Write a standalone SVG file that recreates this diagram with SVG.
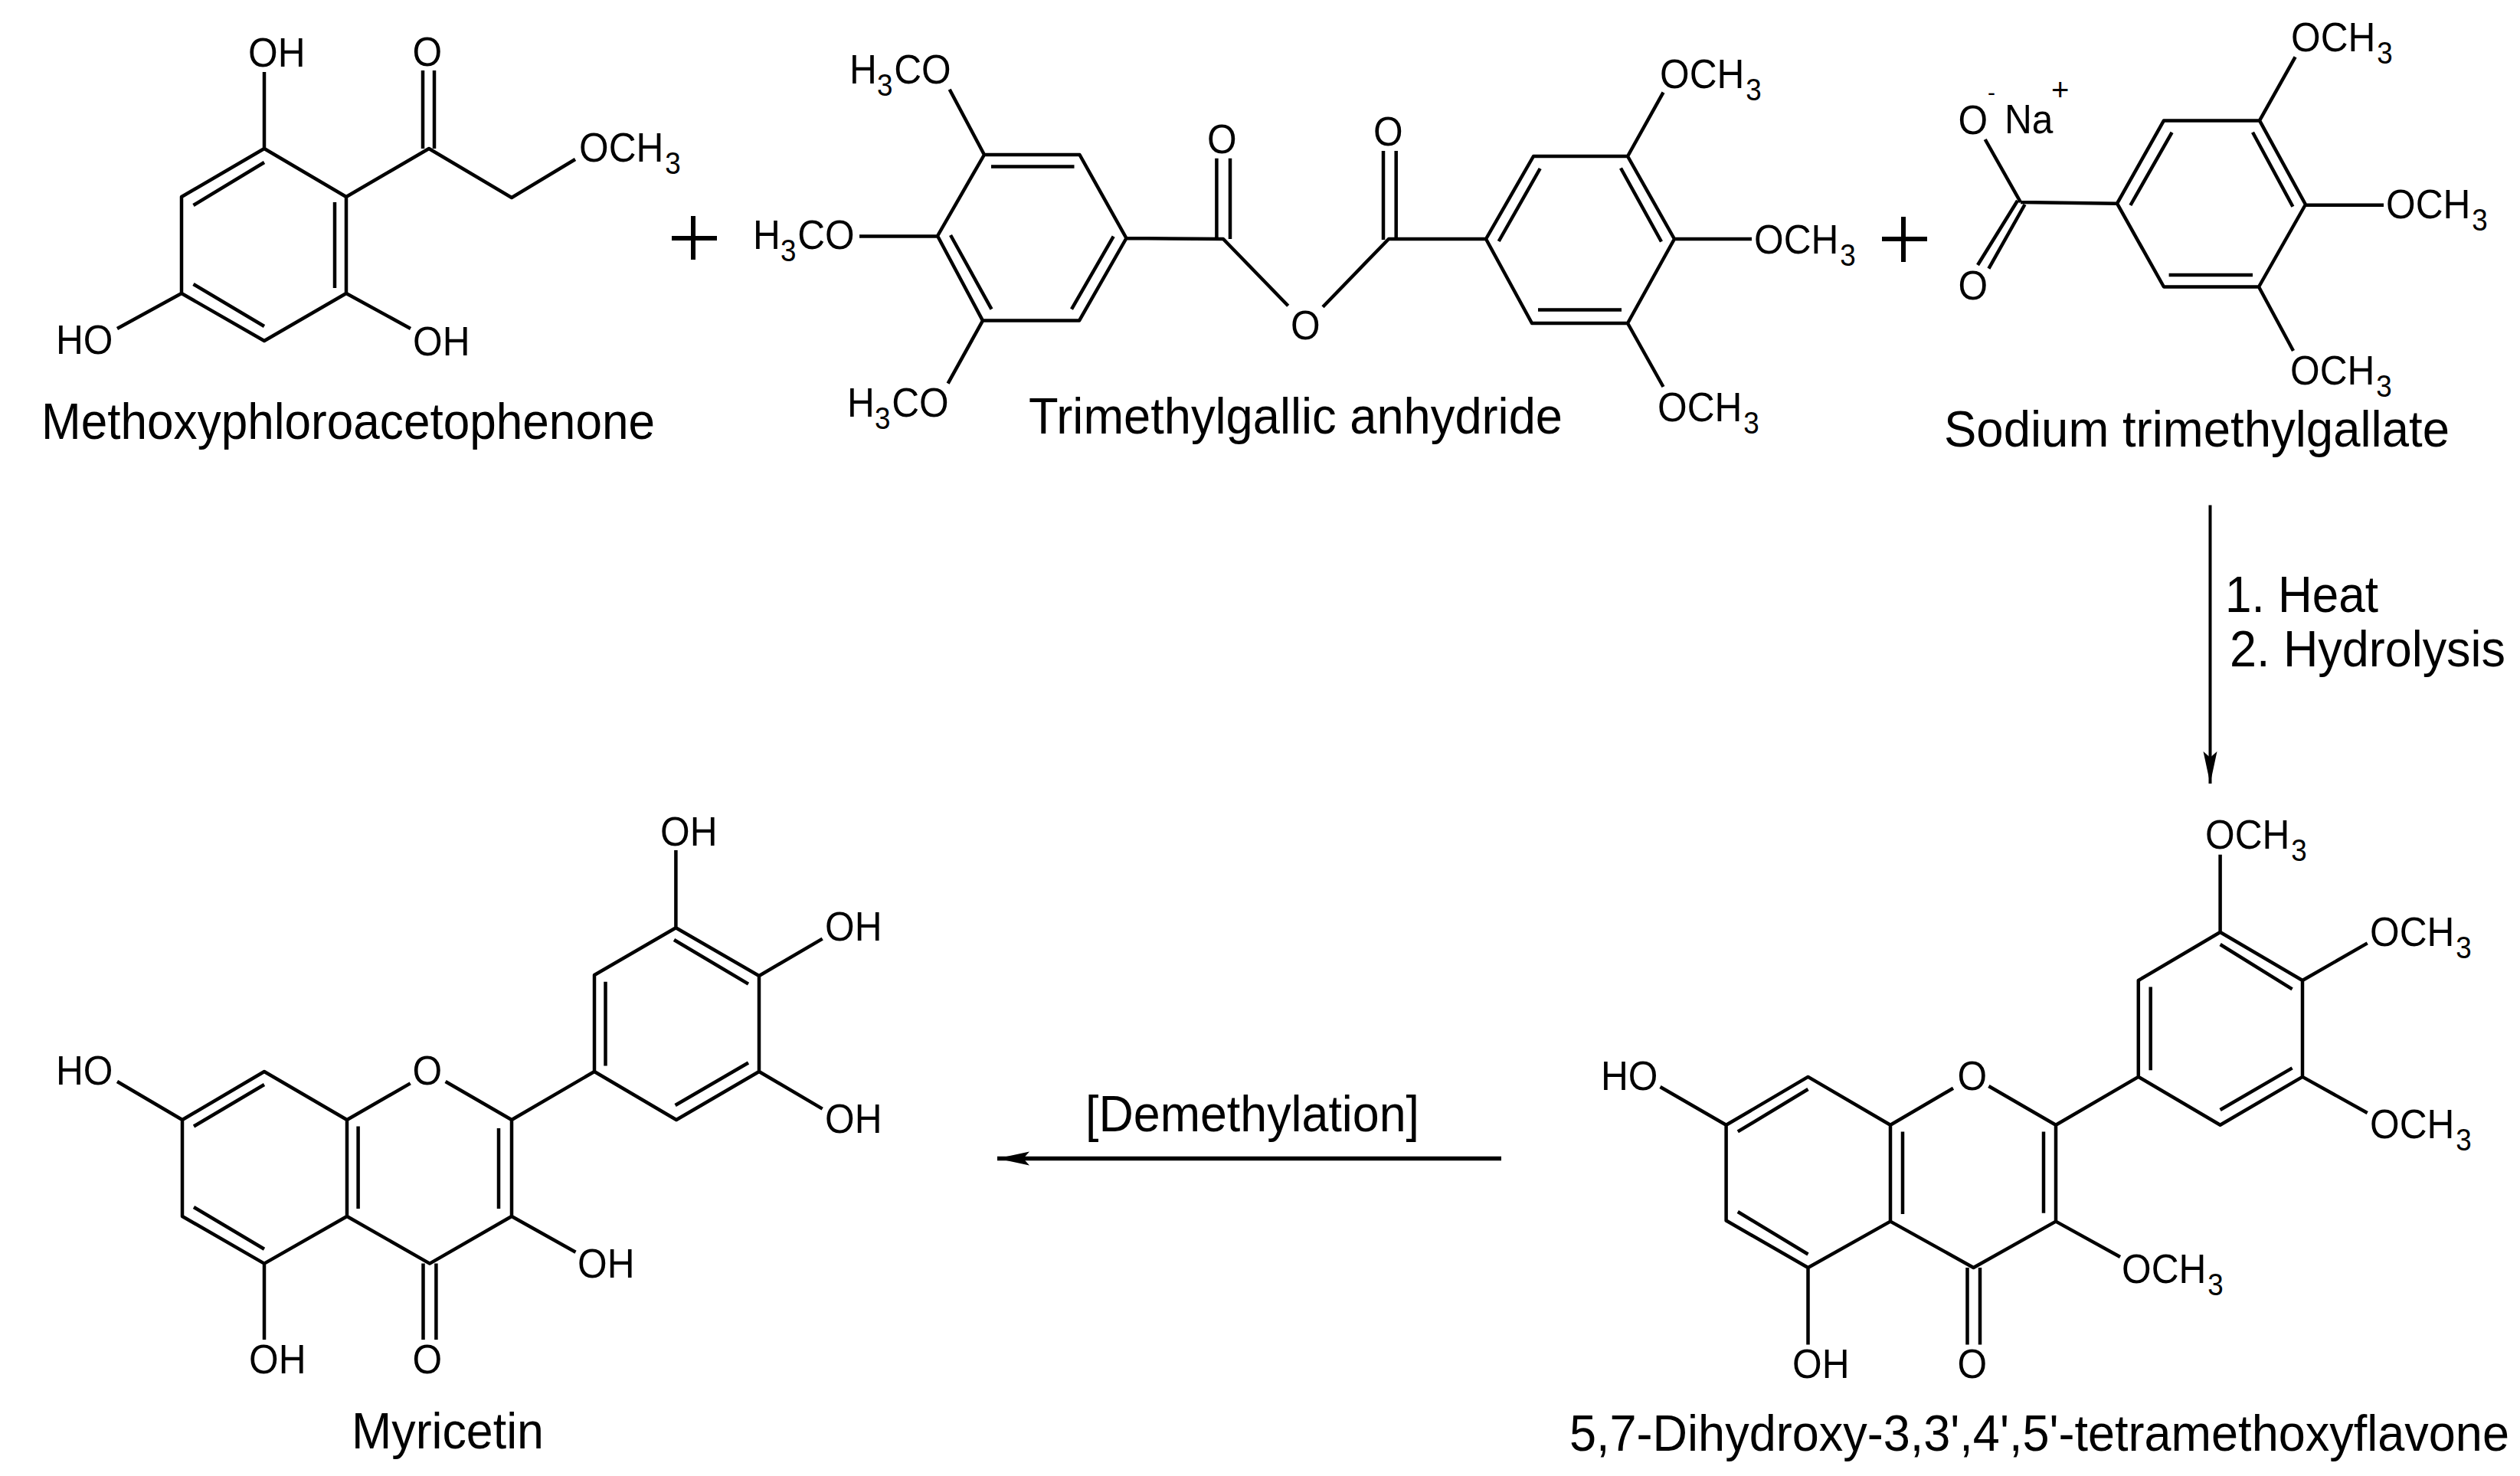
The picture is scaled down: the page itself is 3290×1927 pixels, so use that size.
<svg xmlns="http://www.w3.org/2000/svg" width="3290" height="1927" viewBox="0 0 3290 1927">
<style>
text{font-family:"Liberation Sans",Arial,sans-serif;fill:#000}
.a{font-size:54px}
.l{font-size:66px}
.s{font-size:40px}
.b{fill:none;stroke:#000;stroke-width:4.5;stroke-linejoin:round;stroke-linecap:butt}
.p{fill:none;stroke:#000;stroke-width:6}
.c{fill:none;stroke:#000}
</style>
<defs>
<marker id="head" markerUnits="userSpaceOnUse" markerWidth="44" markerHeight="22" refX="42" refY="10" orient="auto"><path d="M0,1 L42,10 L0,19 L8,10 Z" fill="#000"/></marker>
</defs>
<rect width="3290" height="1927" fill="#fff"/>

<g id="methoxyphloroacetophenone">
<path class="b" d="M345,194 L237,257 L237,383 L345,445 L452,383 L452,257 Z M252.5,268 L345,212 M437,264 L437,376 M252.5,371 L345,426 M345,194 L345,94 M237,383 L153,429 M452,383 L536,429 M452,257 L560,194 L668,258 L751,208 M552,194 L552,92 M567,194 L567,92"/>
<text class="a" transform="translate(324,87) scale(.92,1)">OH</text>
<text class="a" transform="translate(538.5,86) scale(.92,1)">O</text>
<text class="a" transform="translate(756,211) scale(.92,1)">OCH<tspan class="s" dx="2" dy="16">3</tspan></text>
<text class="a" transform="translate(73,462) scale(.92,1)">HO</text>
<text class="a" transform="translate(539,464) scale(.92,1)">OH</text>
<text class="l" x="54" y="573" textLength="801" lengthAdjust="spacingAndGlyphs">Methoxyphloroacetophenone</text>
</g>

<g id="plus-1"><path class="p" d="M877,311 H936 M905,282 V339"/></g>

<g id="trimethylgallic-anhydride">
<path class="b" d="M1285,202 H1409.5 L1470.5,311 L1409,418.6 H1283 L1224,308 Z M1294,217.5 H1402.5 M1241,307 L1294.5,403.6 M1453.7,308.6 L1399,403.6 M1239.7,116.8 L1285,202 M1122,308.6 H1224 M1237.6,500.7 L1283,418.6 M1470.5,311 L1597,312 L1681.7,399.3 M1588.4,312 V206.8 M1606,312 V206.8 M1727,400.7 L1813,312 H1940 M1806,313 V197 M1822.7,313 V197 M1940,312 L2002,204 H2125 L2186,312 L2125,422 H2000 Z M2116,219.5 L2169,315.5 M2008,404.5 H2117 M2010.7,220 L1956.7,315 M2171.5,120.6 L2125,204 M2287,312 H2186 M2171.5,505 L2125,422"/>
<text class="a" transform="translate(1109,109) scale(.92,1)">H<tspan class="s" dy="16">3</tspan><tspan dx="2" dy="-16">CO</tspan></text>
<text class="a" transform="translate(983,325) scale(.92,1)">H<tspan class="s" dy="16">3</tspan><tspan dx="2" dy="-16">CO</tspan></text>
<text class="a" transform="translate(1106,544) scale(.92,1)">H<tspan class="s" dy="16">3</tspan><tspan dx="2" dy="-16">CO</tspan></text>
<text class="a" transform="translate(1576,200) scale(.92,1)">O</text>
<text class="a" transform="translate(1793,190) scale(.92,1)">O</text>
<text class="a" transform="translate(1685,443) scale(.92,1)">O</text>
<text class="a" transform="translate(2167,115) scale(.92,1)">OCH<tspan class="s" dx="2" dy="16">3</tspan></text>
<text class="a" transform="translate(2290,331) scale(.92,1)">OCH<tspan class="s" dx="2" dy="16">3</tspan></text>
<text class="a" transform="translate(2164,550) scale(.92,1)">OCH<tspan class="s" dx="2" dy="16">3</tspan></text>
<text class="l" x="1343" y="566" textLength="697" lengthAdjust="spacingAndGlyphs">Trimethylgallic anhydride</text>
</g>

<g id="plus-2"><path class="p" d="M2457,312 H2516 M2485,283 V342"/></g>

<g id="sodium-trimethylgallate">
<path class="b" d="M2825,157.4 H2950 L3010,267 L2949,374.5 H2825 L2764,265.7 Z M2835.6,172.8 L2781.4,268 M2941,172.8 L2993.4,269.7 M2831.6,359 H2941 M2638,264 L2764,265.7 M2591.7,182 L2638,264 M2582,346 L2634,262 M2596.4,350.7 L2643.5,267 M2996.6,74.3 L2950,157.4 M3112,267.7 H3010 M2994,458 L2949,374.5"/>
<text class="a" transform="translate(2556.5,175) scale(.92,1)">O</text>
<text font-size="30" x="2595" y="131">-</text>
<text class="a" transform="translate(2617,174) scale(.92,1)">Na</text>
<text class="s" x="2678" y="131">+</text>
<text class="a" transform="translate(2556.5,390.5) scale(.92,1)">O</text>
<text class="a" transform="translate(2991,67.4) scale(.92,1)">OCH<tspan class="s" dx="2" dy="16">3</tspan></text>
<text class="a" transform="translate(3115,285) scale(.92,1)">OCH<tspan class="s" dx="2" dy="16">3</tspan></text>
<text class="a" transform="translate(2990,502) scale(.92,1)">OCH<tspan class="s" dx="2" dy="16">3</tspan></text>
<text class="l" x="2538" y="583" textLength="660" lengthAdjust="spacingAndGlyphs">Sodium trimethylgallate</text>
</g>

<g id="tetramethoxyflavone">
<path class="b" d="M2253.6,1468.8 L2360.5,1405.9 L2468,1468.8 V1594.6 L2360.5,1655 L2253.6,1593.5 Z M2468,1594.6 L2576.5,1655 L2684,1594.6 V1468.8 L2596.4,1418 M2468,1468.8 L2550,1420.7 M2684,1468.8 L2791.8,1405.9 V1280 L2898.6,1217 L3006,1280 V1405.9 L2898.6,1468.8 L2791.8,1405.9 M2268.8,1477.4 L2360.5,1422 M2268.8,1582 L2360.5,1637.5 M2484,1477.4 V1585 M2668,1477.4 V1583.8 M2807.7,1288.6 V1397.3 M2898.6,1233 L2992.6,1291.4 M2992.6,1394.4 L2898.6,1449 M2167.5,1419 L2253.6,1468.8 M2360.5,1655 V1755.4 M2568.5,1655 V1755.4 M2585,1655 V1755.4 M2684,1594.6 L2768,1641 M2898.6,1217 V1115.8 M3006,1280 L3090.7,1231.4 M3006,1405.9 L3090.7,1453"/>
<text class="a" transform="translate(2555.5,1423) scale(.92,1)">O</text>
<text class="a" transform="translate(2090,1423) scale(.92,1)">HO</text>
<text class="a" transform="translate(2340,1799) scale(.92,1)">OH</text>
<text class="a" transform="translate(2555.5,1799) scale(.92,1)">O</text>
<text class="a" transform="translate(2770,1674.6) scale(.92,1)">OCH<tspan class="s" dx="2" dy="16">3</tspan></text>
<text class="a" transform="translate(2879,1108) scale(.92,1)">OCH<tspan class="s" dx="2" dy="16">3</tspan></text>
<text class="a" transform="translate(3094,1235) scale(.92,1)">OCH<tspan class="s" dx="2" dy="16">3</tspan></text>
<text class="a" transform="translate(3094,1486) scale(.92,1)">OCH<tspan class="s" dx="2" dy="16">3</tspan></text>
<text class="l" transform="translate(2049,1894) scale(.955,1)">5,7-Dihydroxy-3,3',4',5'-tetramethoxyflavone</text>
</g>

<g id="myricetin">
<path class="b" d="M238,1462 L345,1399 L453,1462 V1588 L345,1649.6 L238,1588 Z M453,1588 L561,1649.6 L668,1588 V1462 L581.6,1412 M453,1462 L535.7,1414.4 M668,1462 L776,1399 V1273 L882.4,1211.3 L991,1274 V1399 L883,1462 L776,1399 M253,1470.5 L345,1416 M253,1576 L345,1630.7 M467.6,1470.5 V1578 M651,1473 V1578 M790.5,1281.7 V1391.6 M880,1227 L977,1284.6 M977,1387.5 L881.6,1443 M153,1412 L238,1462 M345,1649.6 V1749 M552.5,1649.6 V1749 M569.4,1649.6 V1749 M668,1588 L751.5,1634.7 M882.4,1211.3 V1110 M991,1274 L1073.7,1225.6 M991,1399 L1073.7,1447.6"/>
<text class="a" transform="translate(538.5,1416) scale(.92,1)">O</text>
<text class="a" transform="translate(73,1416) scale(.92,1)">HO</text>
<text class="a" transform="translate(325,1793) scale(.92,1)">OH</text>
<text class="a" transform="translate(538.5,1793) scale(.92,1)">O</text>
<text class="a" transform="translate(754,1668) scale(.92,1)">OH</text>
<text class="a" transform="translate(862,1103.6) scale(.92,1)">OH</text>
<text class="a" transform="translate(1077,1228) scale(.92,1)">OH</text>
<text class="a" transform="translate(1077,1479) scale(.92,1)">OH</text>
<text class="l" x="459" y="1891" textLength="251" lengthAdjust="spacingAndGlyphs">Myricetin</text>
</g>

<g id="connectors">
<path class="c" stroke-width="4" d="M2885.5,659.4 V1023" marker-end="url(#head)"/>
<path class="c" stroke-width="5.5" d="M1960,1512.5 H1302" marker-end="url(#head)"/>
</g>
<g id="labels">
<text class="l" x="2905" y="799" textLength="200" lengthAdjust="spacingAndGlyphs">1. Heat</text>
<text class="l" x="2911" y="870" textLength="360" lengthAdjust="spacingAndGlyphs">2. Hydrolysis</text>
<text class="l" x="1417" y="1477" textLength="436" lengthAdjust="spacingAndGlyphs">[Demethylation]</text>
</g>
</svg>
